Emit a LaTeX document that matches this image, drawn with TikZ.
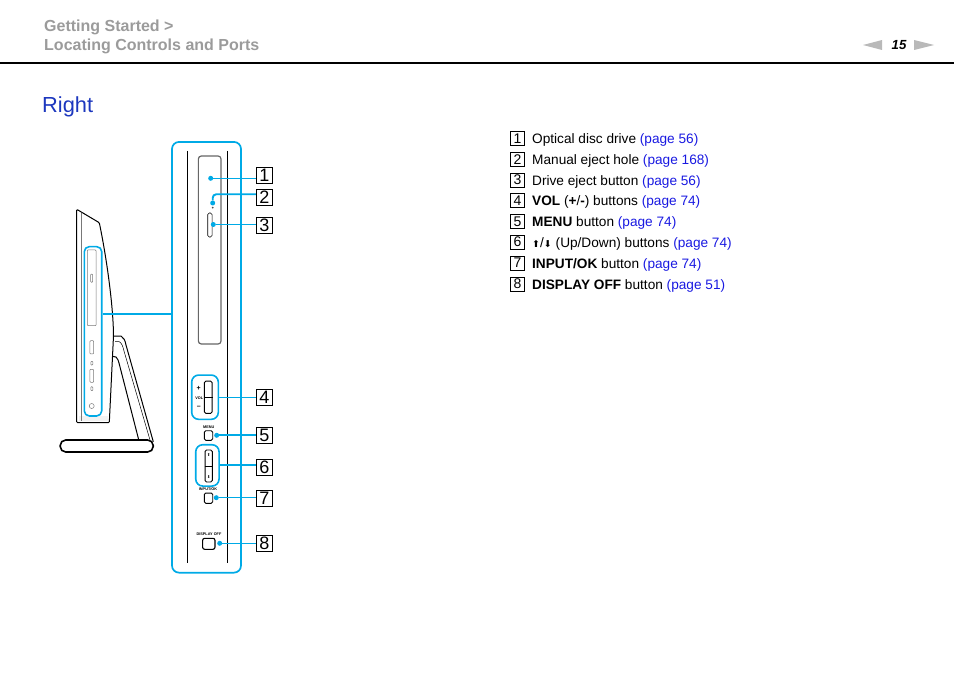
\documentclass[tikz,border=0pt]{standalone}
\usepackage{fontspec}
\setmainfont{Liberation Sans}
\newfontfamily\symfont{DejaVu Sans}
\definecolor{hilite}{RGB}{0,170,230}
\definecolor{linkblue}{RGB}{25,25,225}
\definecolor{headgray}{RGB}{155,155,155}
\definecolor{titleblue}{RGB}{28,55,190}
\definecolor{bodygray}{RGB}{120,120,120}
\newcommand{\pg}[1]{\textcolor{linkblue}{(page #1)}}
\tikzset{
  hibox/.style={draw=hilite, line width=1.6pt, rounded corners=5pt, inner sep=0pt},
  hiline/.style={draw=hilite, line width=1pt},
  hibold/.style={draw=hilite, line width=1.9pt},
  hidot/.style={circle, fill=hilite, inner sep=0pt, minimum size=5pt},
  bigkey/.style={draw, line width=0.7pt, inner sep=0pt, minimum width=16.5pt, minimum height=16pt, font=\fontsize{18}{18}\selectfont},
  smallkey/.style={draw, line width=0.6pt, inner sep=0pt, minimum width=14.5pt, minimum height=14pt, font=\fontsize{14}{14}\selectfont},
  itemtext/.style={anchor=west, inner sep=0pt, font=\fontsize{13.65}{15}\selectfont},
  btn/.style={draw, line width=0.9pt, rounded corners=1.5pt, inner sep=0pt},
  tinytext/.style={inner sep=0pt, font=\fontsize{3.8}{4}\bfseries\selectfont},
  sidebtn/.style={draw=bodygray, line width=0.5pt, rounded corners=0.8pt, inner sep=0pt}
}
\begin{document}
\begin{tikzpicture}[x=1pt,y=-1pt]
\useasboundingbox (0,0) rectangle (954,674);
\node[anchor=west, inner sep=0pt, text=headgray, font=\fontsize{16}{18}\bfseries\selectfont] (head1) at (44,27){Getting Started >};
\node[anchor=west, inner sep=0pt, text=headgray, font=\fontsize{16}{18}\bfseries\selectfont] (head2) at (44,46){Locating Controls and Ports};
\draw[line width=1.6pt] (0,63) -- (954,63);
\node[inner sep=0pt, font=\fontsize{13.2}{15}\bfseries\itshape\selectfont] (pagenum) at (899,45.5){15};
\fill[headgray!70] (863,45) -- (882,40) -- (882,50) -- cycle;
\fill[headgray!70] (934,45) -- (914,40) -- (914,50) -- cycle;
\node[anchor=west, inner sep=0pt, text=titleblue, font=\fontsize{21.8}{26}\selectfont] (title) at (42,107){Right};
\node[smallkey] (skey1) at (517.5,138.5){1};
\node[smallkey] (skey2) at (517.5,159.5){2};
\node[smallkey] (skey3) at (517.5,180){3};
\node[smallkey] (skey4) at (517.5,200.5){4};
\node[smallkey] (skey5) at (517.5,221.5){5};
\node[smallkey] (skey6) at (517.5,242){6};
\node[smallkey] (skey7) at (517.5,263){7};
\node[smallkey] (skey8) at (517.5,284){8};
\node[itemtext] (item1) at (532,140){Optical disc drive \pg{56}};
\node[itemtext] (item2) at (532,161){Manual eject hole \pg{168}};
\node[itemtext] (item3) at (532,181.5){Drive eject button \pg{56}};
\node[itemtext] (item4) at (532,202){\textbf{VOL} (\textbf{+}/\textbf{-}) buttons \pg{74}};
\node[itemtext] (item5) at (532,223){\textbf{MENU} button \pg{74}};
\node[itemtext] (item6) at (532,243.5){{\symfont\fontsize{9.5}{9}\selectfont ⬆}/{\symfont\fontsize{9.5}{9}\selectfont ⬇} (Up/Down) buttons \pg{74}};
\node[itemtext] (item7) at (532,264.5){\textbf{INPUT/OK} button \pg{74}};
\node[itemtext] (item8) at (532,285.5){\textbf{DISPLAY OFF} button \pg{51}};
\fill[black!5] (79,416) rectangle (108,421);
\draw[bodygray, line width=0.5pt] (81,213) -- (81,421);
\draw[line width=1pt, line join=round, rounded corners=1pt] (76.7,209.3) -- (99.3,222.7) .. controls (108,265) and (113.3,310) .. (113.5,336) -- (109.3,422.7) -- (76.7,422.7) -- cycle;
\draw[line width=1pt] (114,336) -- (121,336) .. controls (124,338) and (125,340) .. (126,345) -- (153.3,441.7);
\draw[line width=0.5pt] (115,341.5) -- (119,341.5) .. controls (122,343) and (123,347) .. (124,351) -- (150,440);
\draw[line width=1pt] (113,356.5) -- (116,357) .. controls (118,359) and (118.5,361) .. (119,363) -- (138.5,439);
\node[draw, line width=1.6pt, rounded corners=5.5pt, inner sep=0pt, minimum width=93pt, minimum height=12pt, fill=white] (standbase) at (106.7,446){};
\node[hibox, minimum width=17.4pt, minimum height=169.3pt] (sidehi) at (93,331.3){};
\node[sidebtn, minimum width=8.7pt, minimum height=75.7pt] (sidedrive) at (91.7,287.8){};
\node[sidebtn, minimum width=2pt, minimum height=8.3pt] (sideeject) at (91.7,278.2){};
\node[sidebtn, minimum width=3.7pt, minimum height=13.3pt] (sidevol) at (91.8,347.3){};
\node[sidebtn, minimum width=2pt, minimum height=3.7pt] (sidemenu) at (91.8,363.2){};
\node[sidebtn, minimum width=3.7pt, minimum height=13pt] (sideud) at (91.8,375.8){};
\node[sidebtn, minimum width=2pt, minimum height=4pt] (sideinput) at (91.8,388.7){};
\node[circle, draw=bodygray, line width=0.5pt, inner sep=0pt, minimum size=5pt] (sidedisp) at (91.7,406){};
\node[draw=hilite, line width=1.7pt, rounded corners=7pt, inner sep=0pt, minimum width=69pt, minimum height=430.7pt] (panel) at (206.5,357.3){};
\draw[line width=0.8pt] (187.3,151) -- (187.3,563);
\draw[line width=0.8pt] (227.3,151) -- (227.3,563);
\draw[hibold] (sidehi.east |- 0,314) -- (panel.west |- 0,314);
\node[draw=black!60, line width=1.2pt, rounded corners=3pt, inner sep=0pt, minimum width=22.7pt, minimum height=188pt] (drive) at (209.7,250){};
\node[btn, line width=0.6pt, minimum width=4.3pt, minimum height=24pt] (eject) at (209.9,225){};
\node[circle, fill=black!70, inner sep=0pt, minimum size=2pt] (hole) at (212.7,207.7){};
\node[bigkey] (key1) at (264.5,175.7){1};
\node[bigkey] (key2) at (264.5,197){2};
\node[bigkey] (key3) at (264.5,225){3};
\node[bigkey] (key4) at (264.5,397){4};
\node[bigkey] (key5) at (264.5,435){5};
\node[bigkey] (key6) at (264.5,467){6};
\node[bigkey] (key7) at (264.5,498.5){7};
\node[bigkey] (key8) at (264.5,543){8};
\node[hidot] (dot1) at (210.7,178.3){};
\node[hidot] (dot2) at (212.7,203){};
\node[hidot] (dot3) at (213.3,224.5){};
\node[hidot] (dot5) at (216.7,435.3){};
\node[hidot] (dot7) at (216.3,497.7){};
\node[hidot] (dot8) at (219.7,543.3){};
\coordinate (bend2) at (216,194.3);
\draw[hiline] (dot1) -- (dot1 -| key1.west);
\draw[hibold, rounded corners=3.5pt] (dot2) -- (dot2 |- bend2) -- (bend2 -| key2.west);
\draw[hibold] (dot3) -- (dot3 -| key3.west);
\node[hibox, minimum width=26.6pt, minimum height=44.3pt, rounded corners=7pt] (volhi) at (205,397.2){};
\node[btn, minimum width=7.7pt, minimum height=32.3pt] (volbtn) at (208.2,397.2){};
\draw[line width=0.7pt] (volbtn.west) -- (volbtn.east);
\node[inner sep=0pt, font=\fontsize{7}{7}\bfseries\selectfont] (volplus) at (198.7,388.3){+};
\node[inner sep=0pt, font=\fontsize{7}{7}\bfseries\selectfont] (volminus) at (198.7,407.3){–};
\node[tinytext] (vollabel) at (199.3,397.7){VOL};
\draw[hiline] (volhi.east) -- (volhi.east -| key4.west);
\node[tinytext] (menulabel) at (208.7,427){MENU};
\node[btn, minimum width=8.4pt, minimum height=9.6pt] (menubtn) at (208.5,435.5){};
\draw[hibold] (dot5) -- (dot5 -| key5.west);
\node[hibox, minimum width=23.3pt, minimum height=41.3pt, rounded corners=7pt] (udhi) at (207.4,465.4){};
\node[btn, minimum width=7.3pt, minimum height=32pt] (udbtn) at (208.7,466){};
\draw[line width=0.7pt] (udbtn.west) -- (udbtn.east);
\node[tinytext, font=\fontsize{4}{4}\symfont\selectfont] (uparrow) at (208.8,455){⬆};
\node[tinytext, font=\fontsize{4}{4}\symfont\selectfont] (downarrow) at (208.8,476.7){⬇};
\draw[hibold] (udhi.east) -- (udhi.east -| key6.west);
\node[tinytext] (inputlabel) at (208,489){INPUT/OK};
\node[btn, minimum width=8.4pt, minimum height=10.3pt] (inputbtn) at (208.5,498.2){};
\draw[hiline] (dot7) -- (dot7 -| key7.west);
\node[tinytext] (displabel) at (209,534){DISPLAY OFF};
\node[btn, line width=1.1pt, minimum width=12.3pt, minimum height=11pt, rounded corners=2pt] (dispbtn) at (208.8,543.8){};
\draw[hiline] (dot8) -- (dot8 -| key8.west);
\end{tikzpicture}
\end{document}
